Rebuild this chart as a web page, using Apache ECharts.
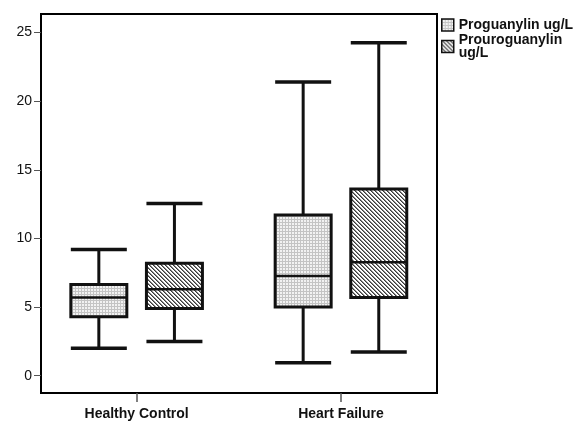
<!DOCTYPE html>
<html>
<head>
<meta charset="utf-8">
<script src="https://cdn.jsdelivr.net/npm/echarts@6/dist/echarts.min.js"></script>
<style>
  html, body { margin: 0; padding: 0; background: #fff; }
  #chart { width: 576px; height: 422px; }
</style>
</head>
<body>
<div id="chart"></div>
<script>
// categories on the x axis
var categories = ["Healthy Control", "Heart Failure"];
var seriesNames = ["Proguanylin ug/L", "Prouroguanylin ug/L"];
// [min, Q1, median, Q3, max] per category
var proguanylin = [
  [2.0, 4.3, 5.7, 6.65, 9.2],
  [0.95, 5.0, 7.27, 11.7, 21.4]
];
var prouroguanylin = [
  [2.5, 4.9, 6.3, 8.2, 12.55],
  [1.73, 5.7, 8.27, 13.6, 24.25]
];
var yTicks = [0, 5, 10, 15, 20, 25];

var FONT = "'Liberation Sans', Arial, sans-serif";
var BOX_W = 0.274;      // box width in x units
var BOX_OFFSET = 0.185; // shift of each box from the category center

// fill patterns
function makePattern(size, draw) {
  var c = document.createElement("canvas");
  c.width = size;
  c.height = size;
  draw(c.getContext("2d"));
  return { image: c, repeat: "repeat" };
}
var dotFill = makePattern(3, function (ctx) {
  ctx.fillStyle = "#f2f2f2";
  ctx.fillRect(0, 0, 3, 3);
  ctx.fillStyle = "#c4c4c4";
  ctx.fillRect(0, 0, 3, 1);
  ctx.fillRect(0, 0, 1, 3);
});
var hatchFill = makePattern(4, function (ctx) {
  ctx.fillStyle = "#ffffff";
  ctx.fillRect(0, 0, 4, 4);
  for (var i = 0; i < 4; i++) {
    ctx.fillStyle = "#3a3a3a";
    ctx.fillRect(i, i, 1, 1);
    ctx.fillStyle = "#8a8a8a";
    ctx.fillRect((i + 1) % 4, i, 1, 1);
  }
});

function toData(stats) {
  return stats.map(function (s, i) {
    return [i].concat(s);
  });
}

function boxRenderer(offset, fill) {
  return function (params, api) {
    var x = api.value(0) + offset;
    var low = api.coord([x, api.value(1)]);
    var q1 = api.coord([x, api.value(2)]);
    var med = api.coord([x, api.value(3)]);
    var q3 = api.coord([x, api.value(4)]);
    var high = api.coord([x, api.value(5)]);
    var half = api.size([BOX_W, 0])[0] / 2;
    var cx = low[0];
    var lineStyle = { stroke: "#111", lineWidth: 3 };
    return {
      type: "group",
      children: [
        { type: "line", shape: { x1: cx, y1: high[1], x2: cx, y2: q3[1] }, style: lineStyle },
        { type: "line", shape: { x1: cx, y1: q1[1], x2: cx, y2: low[1] }, style: lineStyle },
        { type: "line", shape: { x1: cx - half, y1: high[1], x2: cx + half, y2: high[1] }, style: { stroke: "#111", lineWidth: 3.5 } },
        { type: "line", shape: { x1: cx - half, y1: low[1], x2: cx + half, y2: low[1] }, style: { stroke: "#111", lineWidth: 3.5 } },
        {
          type: "rect",
          shape: { x: cx - half, y: q3[1], width: half * 2, height: q1[1] - q3[1] },
          style: { fill: fill, stroke: "#111", lineWidth: 3 }
        },
        { type: "line", shape: { x1: cx - half, y1: med[1], x2: cx + half, y2: med[1] }, style: { stroke: "#111", lineWidth: 2.5 } }
      ]
    };
  };
}

var chart = echarts.init(document.getElementById("chart"));
chart.setOption({
  animation: false,
  backgroundColor: "#fff",
  textStyle: { fontFamily: FONT },
  grid: {
    left: 41, top: 14, right: 139, bottom: 29,
    show: true, borderColor: "#000", borderWidth: 2, backgroundColor: "transparent"
  },
  legend: {
    orient: "vertical",
    left: 441,
    top: 18,
    padding: 0,
    itemWidth: 12,
    itemHeight: 12,
    itemGap: 1,
    icon: "rect",
    textStyle: { fontFamily: FONT, fontSize: 14, fontWeight: "bold", color: "#111", lineHeight: 13 },
    formatter: function (name) {
      return name.length > 16 ? name.replace(" ", "\n") : name;
    },
    data: [
      { name: seriesNames[0], itemStyle: { color: dotFill, borderColor: "#111", borderWidth: 1.5 } },
      { name: seriesNames[1], itemStyle: { color: hatchFill, borderColor: "#111", borderWidth: 1.5 } }
    ]
  },
  xAxis: {
    type: "value",
    min: -0.468,
    max: 1.47,
    splitLine: { show: false },
    axisLine: { show: false, onZero: false },
    axisTick: { show: true, length: 9, customValues: [0, 1], lineStyle: { color: "#555", width: 1.5 } },
    axisLabel: {
      customValues: [0, 1],
      margin: 14,
      fontSize: 14,
      fontWeight: "bold",
      color: "#111",
      fontFamily: FONT,
      formatter: function (v) { return categories[Math.round(v)]; }
    }
  },
  yAxis: {
    type: "value",
    min: -1.26,
    max: 26.35,
    splitLine: { show: false },
    axisLine: { show: false, onZero: false },
    axisTick: { show: true, length: 7, customValues: yTicks, lineStyle: { color: "#555", width: 1 } },
    axisLabel: { customValues: yTicks, margin: 9, fontSize: 14, color: "#111", fontFamily: FONT }
  },
  series: [
    {
      name: seriesNames[0],
      type: "custom",
      renderItem: boxRenderer(-BOX_OFFSET, dotFill),
      encode: { x: 0, y: [1, 2, 3, 4, 5] },
      data: toData(proguanylin)
    },
    {
      name: seriesNames[1],
      type: "custom",
      renderItem: boxRenderer(BOX_OFFSET, hatchFill),
      encode: { x: 0, y: [1, 2, 3, 4, 5] },
      data: toData(prouroguanylin)
    }
  ]
});
</script>
</body>
</html>
